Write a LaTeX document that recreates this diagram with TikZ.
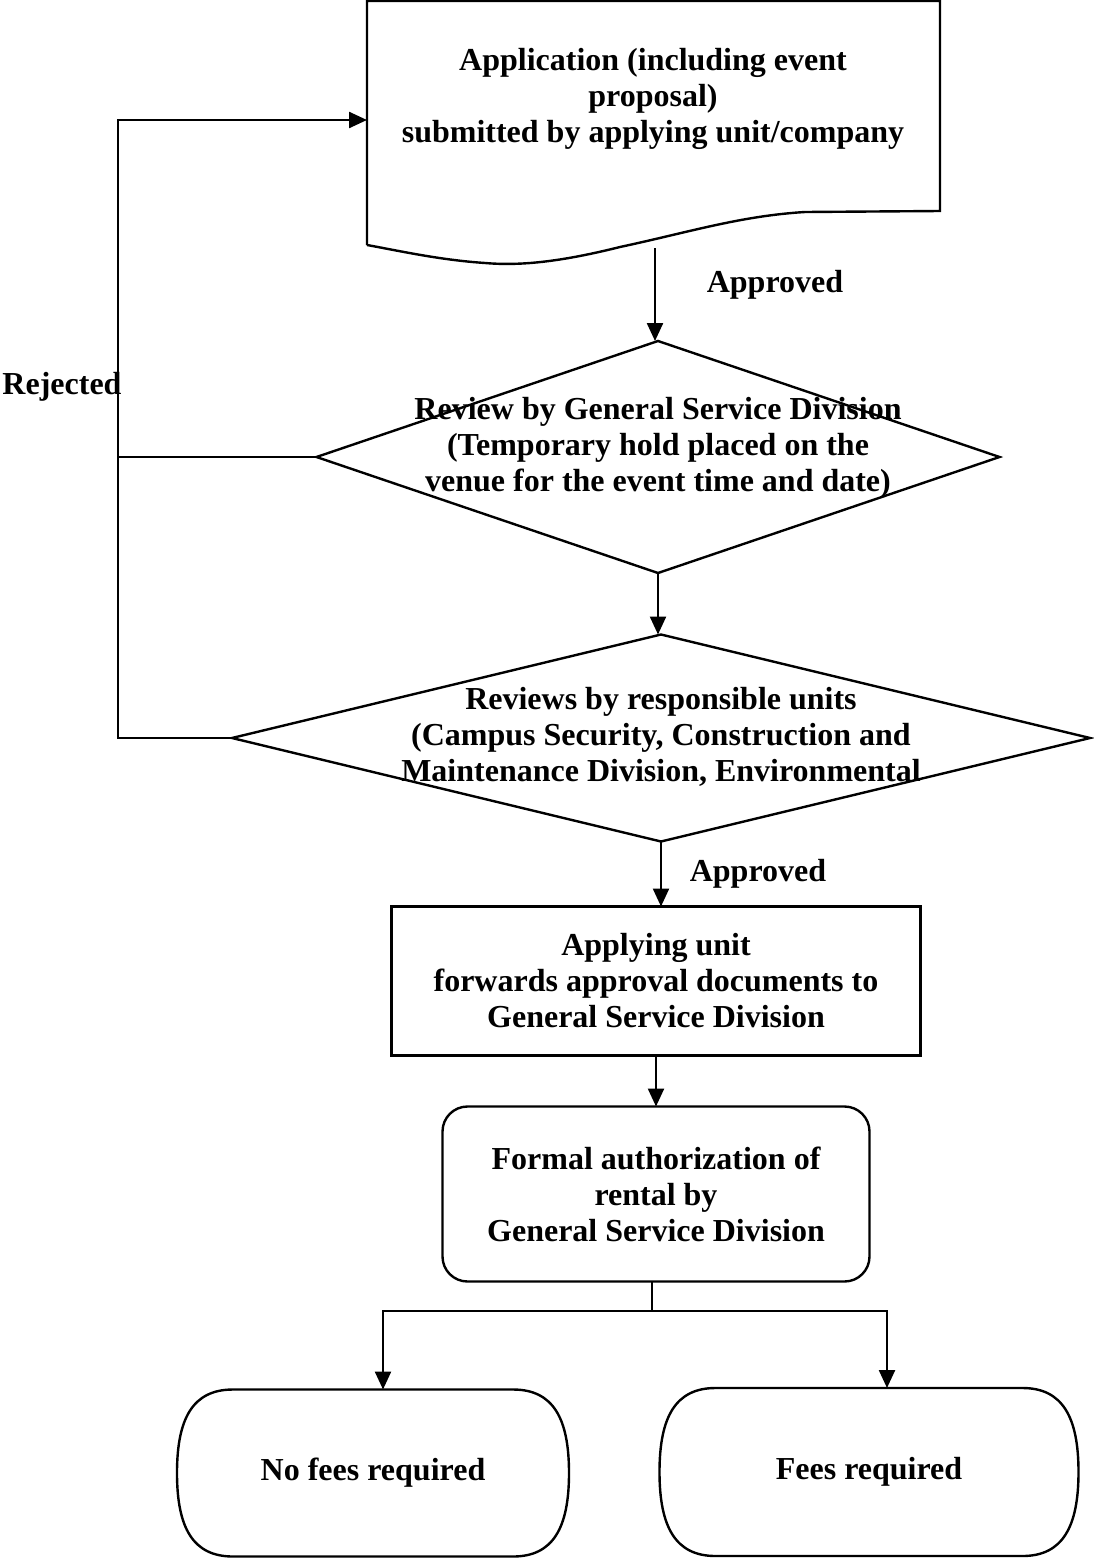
\documentclass[tikz,border=0pt]{standalone}
\usepackage{fontspec}
\setmainfont{Liberation Serif}
\usepackage{tikz}
\usetikzlibrary{arrows.meta,calc,positioning,shapes.geometric}

\begin{document}
\begin{tikzpicture}[x=1pt,y=-1pt,line width=2.4pt,
	every node/.style={font=\fontsize{32}{36}\selectfont\bfseries,align=center,inner sep=0pt,outer sep=0pt},
	flow/.style={-{Triangle[length=18pt,width=16pt]}},
	decision/.style={diamond,draw,line width=2.4pt},
	process/.style={rectangle,draw,line width=2.4pt}]
	\useasboundingbox (0,0) rectangle (1093,1563);

	% document shape at the top
	\draw (367,245) -- (367,1) -- (940,1) -- (940,211) -- (805,212)
		.. controls (740,216) and (690,232) .. (620,247)
		.. controls (560,262) and (520,266) .. (485,263)
		.. controls (440,260) and (400,251) .. (367,245);
	\node (apply) at (653,99) {Application (including event\\proposal)\\submitted by applying unit/company};
	\coordinate (wave) at (655,248);
	\coordinate (docin) at (367,120);

	\node (review) [decision,minimum width=683pt,minimum height=232pt,
		label={[yshift=9pt]center:{Review by General Service Division\\(Temporary hold placed on the\\venue for the event time and date)}}] at (658,457) {};
	\node (checks) [decision,minimum width=858pt,minimum height=207pt,
		label={[yshift=1pt]center:{Reviews by responsible units\\(Campus Security, Construction and\\Maintenance Division, Environmental}}] at (661,738) {};
	\node (forward) [process,minimum width=529pt,minimum height=149pt] at (656,981) {Applying unit\\forwards approval documents to\\General Service Division};
	\node (formal) [process,rounded corners=25pt,minimum width=427pt,minimum height=175pt] at (656,1194) {Formal authorization of\\rental by\\General Service Division};

	\node (nofee) [minimum width=280pt,minimum height=167pt] at (373,1473) {No fees required};
	\node (fees) [minimum width=307pt,minimum height=168pt] at (869,1472) {Fees required};
	\foreach \n in {nofee,fees}
		\draw (\n.north west) -- (\n.north east)
			.. controls +(40,0) and +(0,-55) .. ([xshift=56pt]\n.east)
			.. controls +(0,55) and +(40,0) .. (\n.south east) -- (\n.south west)
			.. controls +(-40,0) and +(0,55) .. ([xshift=-56pt]\n.west)
			.. controls +(0,-55) and +(-40,0) .. (\n.north west) -- cycle;

	\node (ok1) at (775,285) {Approved};
	\node (ok2) at (758,874) {Approved};
	\node (rejected) at (62,387) {Rejected};

	% main flow
	\draw[flow] (wave) -- (wave |- review.north);
	\draw[flow] (review.south) -- (review.south |- checks.north);
	\draw[flow] (checks.south) -- (checks.south |- forward.north);
	\draw[flow] (forward.south) -- (formal.north);

	% rejected loop
	\coordinate (back) at (118,120);
	\draw[flow] (checks.west) -| (back) -- (docin);
	\draw (review.west) -- (review.west -| back);

	% split to the two outcomes
	\coordinate (split) at (652,1311);
	\draw ([xshift=-4pt]formal.south) -- (split);
	\draw[flow] (split) -| ([xshift=10pt]nofee.north);
	\draw[flow] (split) -| ([xshift=18pt]fees.north);
\end{tikzpicture}
\end{document}
